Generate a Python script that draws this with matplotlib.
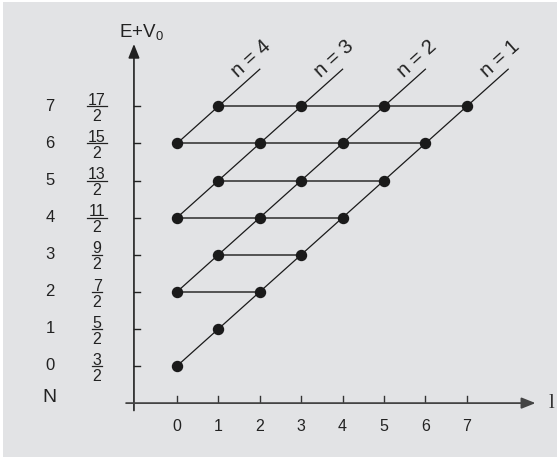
import numpy as np
import matplotlib
matplotlib.use("Agg")
import matplotlib.pyplot as plt
from matplotlib.patches import Rectangle

plt.rcParams['font.family'] = ['Liberation Sans', 'DejaVu Sans']
plt.rcParams['mathtext.fontset'] = 'custom'
plt.rcParams['mathtext.rm'] = 'Liberation Sans'
plt.rcParams['mathtext.it'] = 'Liberation Sans:italic'

# oscillator shells: N, energy (numerator over 2), l ticks
N_levels = [0, 1, 2, 3, 4, 5, 6, 7]
energy_num = ['3', '5', '7', '9', '11', '13', '15', '17']
energy_den = '2'
l_ticks = [0, 1, 2, 3, 4, 5, 6, 7]

# allowed (l, N) states
pts_l = [0, 1, 0, 2, 1, 3, 0, 2, 4, 1, 3, 5, 0, 2, 4, 6, 1, 3, 5, 7]
pts_N = [0, 1, 2, 2, 3, 3, 4, 4, 4, 5, 5, 5, 6, 6, 6, 6, 7, 7, 7, 7]

# radial branches n: start N at l=0, lines run up to N_top
n_branches = [1, 2, 3, 4]
branch_start_N = [0, 2, 4, 6]
N_top = 8

BG = '#e2e3e5'
INK = '#1a1a1a'
PX_L = 41.4   # pixels per unit l
PX_N = 37.1   # pixels per unit N

fig = plt.figure(figsize=(5.6, 4.59), dpi=100)
fig.patch.set_facecolor('white')
fig.add_artist(Rectangle((3 / 560, 2 / 459), 554 / 560, 455 / 459,
                         transform=fig.transFigure, facecolor=BG,
                         edgecolor='none', zorder=0))

ax = fig.add_axes([0, 0, 1, 1])
ax.patch.set_visible(False)
ax.set_xlim(-177 / PX_L, 383 / PX_L)
ax.set_ylim((366 - 459) / PX_N, 366 / PX_N)
ax.axis('off')

ax_l, ax_N = -1.04, -1.0

# axes with arrows
ax.annotate('', xy=(ax_l, 8.68), xytext=(ax_l, -1.2),
            arrowprops=dict(arrowstyle='-|>,head_length=0.7,head_width=0.28',
                            mutation_scale=12, lw=1.2, color='#222',
                            shrinkA=0, shrinkB=0))
ax.annotate('', xy=(8.66, ax_N), xytext=(-1.23, ax_N),
            arrowprops=dict(arrowstyle='-|>,head_length=0.7,head_width=0.28',
                            mutation_scale=12, lw=1.3, color='#444',
                            shrinkA=0, shrinkB=0))

# ticks
for N in N_levels:
    ax.plot([ax_l, ax_l + 0.15], [N, N], color='#222', lw=1.0)
for l in l_ticks:
    ax.plot([l, l], [ax_N + 0.02, ax_N + 0.18], color='#333', lw=1.0)
    ax.text(l, -1.64, str(l), ha='center', va='center', fontsize=11.5, color='#222')

# left labels: N and (E+V0) as fractions
frac_x = -1.93
for N, num in zip(N_levels, energy_num):
    ax.text(-3.07, N, str(N), ha='center', va='center', fontsize=12, color='#222')
    ax.annotate(num, xy=(frac_x, N), xytext=(0, 0.9), textcoords='offset points',
                ha='center', va='baseline', fontsize=11.5, color='#222')
    ax.annotate(energy_den, xy=(frac_x, N), xytext=(0, -10.6), textcoords='offset points',
                ha='center', va='baseline', fontsize=11.5, color='#222')
    hw = (len(num) * 8.6 + 2) / 2 / PX_L
    ax.plot([frac_x - hw, frac_x + hw], [N, N], color='#222', lw=0.9)

ax.text(-3.07, -0.84, 'N', ha='center', va='center', fontsize=14, color='#222')
ax.text(-0.85, 9.0, r'E+V$_0$', ha='center', va='center', fontsize=13.5, color='#222')
ax.text(9.05, -1.0, 'l', ha='center', va='center', fontsize=15,
        family='Liberation Serif', color='#333')

# diagonal branch lines
for n, N0 in zip(n_branches, branch_start_N):
    l_end = N_top - N0
    ax.plot([0, l_end], [N0, N_top], color=INK, lw=0.9, zorder=2)
    ax.annotate(f'n = {n}', xy=(l_end, N_top), xytext=(-6, 7.5),
                textcoords='offset points', ha='center', va='center',
                rotation=42, rotation_mode='anchor', fontsize=14.5, color='#222')

# horizontal lines joining equal N
pl = np.array(pts_l)
pN = np.array(pts_N)
for N in N_levels:
    ls = pl[pN == N]
    if len(ls) > 1:
        ax.plot([ls.min(), ls.max()], [N, N], color='#3a3a3a', lw=1.2, zorder=2)

ax.plot(pts_l, pts_N, 'o', color=INK, markersize=7.2, zorder=3)

fig.savefig('out.png', dpi=100, facecolor=fig.get_facecolor())
